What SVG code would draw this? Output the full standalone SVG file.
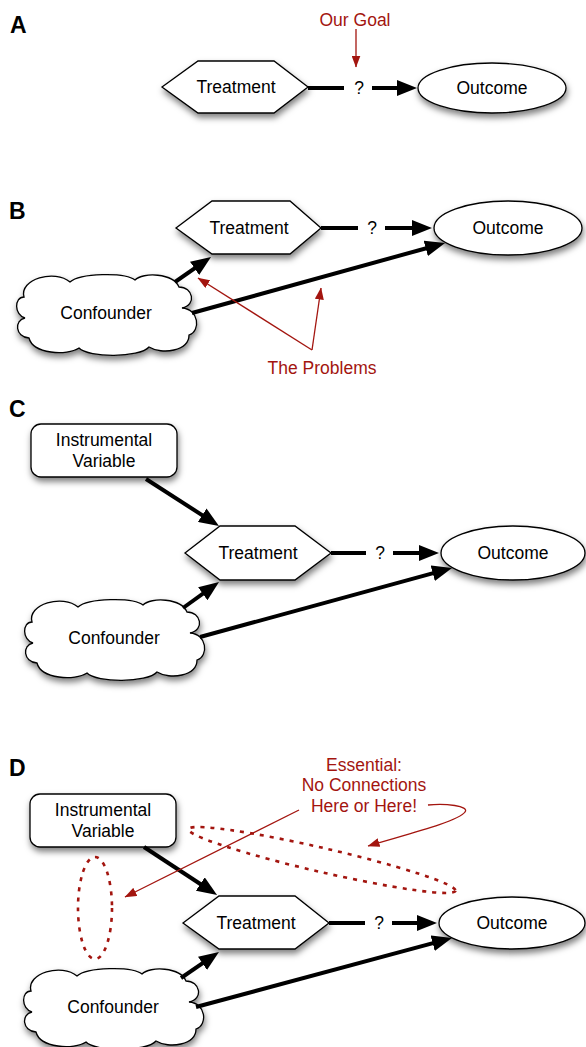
<svg xmlns="http://www.w3.org/2000/svg" width="586" height="1047" viewBox="0 0 586 1047">
<style>
.node{fill:#fff;stroke:#000;stroke-width:1.3;filter:url(#sh)}
.t{font-family:"Liberation Sans",Arial,sans-serif;font-size:17.5px;fill:#000;text-anchor:middle}
.r{font-family:"Liberation Sans",Arial,sans-serif;font-size:17.5px;fill:#a3150f;text-anchor:middle}
.lab{font-family:"Liberation Sans",Arial,sans-serif;font-size:23px;font-weight:bold;fill:#000}
.e{stroke:#000;stroke-width:4;fill:none}
.ea{stroke:#000;stroke-width:4;fill:none;marker-end:url(#ah)}
.ra{stroke:#a3150f;stroke-width:1.3;fill:none;marker-end:url(#rh)}
.dash{stroke:#a3150f;stroke-width:2.6;fill:none;stroke-dasharray:4 6}
</style>
<defs>
<filter id="sh" x="-20%" y="-20%" width="150%" height="160%">
<feDropShadow dx="1" dy="4" stdDeviation="3" flood-color="#000" flood-opacity="0.5"/>
</filter>
<marker id="ah" markerUnits="userSpaceOnUse" viewBox="0 0 20 16" markerWidth="20" markerHeight="16" refX="10" refY="8" orient="auto">
<path d="M0,0 L20,8 L0,16 Z" fill="#000"/>
</marker>
<marker id="rh" markerUnits="userSpaceOnUse" viewBox="0 0 12 9" markerWidth="12" markerHeight="9" refX="11.5" refY="4.5" orient="auto">
<path d="M0,0 L12,4.5 L0,9 Z" fill="#a3150f"/>
</marker>
<path id="cloud" d="M7,22 C2,4 38,-6 53,7 C63,-2 108,-3 118,5 C126,-3 156,-2 162,12 C176,12 180,30 165,33 C182,34 184,56 172,60 C172,76 145,80 132,72 C122,83 72,83 62,73 C50,81 16,79 12,63 C-2,62 -3,45 8,43 C-3,40 -3,22 7,22 Z"/>
</defs>

<g id="panel-labels">
<text class="lab" x="10" y="33">A</text>
<text class="lab" x="9" y="219">B</text>
<text class="lab" x="9" y="417">C</text>
<text class="lab" x="9" y="776">D</text>
</g>

<!-- Panel A -->
<g id="A-treatment">
<polygon class="node" points="162,87 198,61 274,61 308,87 274,113 198,113"/>
<text class="t" x="236" y="93">Treatment</text>
</g>
<g id="A-outcome">
<ellipse class="node" cx="492" cy="88" rx="74" ry="25"/>
<text class="t" x="492" y="94">Outcome</text>
</g>
<g id="A-goal">
<text class="r" x="355" y="26">Our Goal</text>
</g>

<!-- Panel B -->
<g id="B-treatment">
<polygon class="node" points="176,228 212,201 290,201 321,228 290,254 212,254"/>
<text class="t" x="249" y="234">Treatment</text>
</g>
<g id="B-outcome">
<ellipse class="node" cx="508" cy="228" rx="74" ry="27"/>
<text class="t" x="508" y="234">Outcome</text>
</g>
<g id="B-confounder">
<use href="#cloud" class="node" transform="translate(17,275)"/>
<text class="t" x="106" y="319">Confounder</text>
</g>
<g id="B-problems">
<text class="r" x="322" y="374">The Problems</text>
</g>

<!-- Panel C -->
<g id="C-instrument">
<rect class="node" x="31" y="424" width="146" height="53" rx="10"/>
<text class="t" x="104" y="446">Instrumental</text>
<text class="t" x="104" y="467">Variable</text>
</g>
<g id="C-treatment">
<polygon class="node" points="185,553 220,526 295,526 331,553 295,580 220,580"/>
<text class="t" x="258" y="559">Treatment</text>
</g>
<g id="C-outcome">
<ellipse class="node" cx="513" cy="553" rx="72" ry="27"/>
<text class="t" x="513" y="559">Outcome</text>
</g>
<g id="C-confounder">
<use href="#cloud" class="node" transform="translate(25,600)"/>
<text class="t" x="114" y="644">Confounder</text>
</g>

<!-- Panel D -->
<g id="D-instrument">
<rect class="node" x="30" y="794" width="146" height="53" rx="10"/>
<text class="t" x="103" y="816">Instrumental</text>
<text class="t" x="103" y="837">Variable</text>
</g>
<g id="D-treatment">
<polygon class="node" points="183,923 219,896 295,896 329,923 295,949 219,949"/>
<text class="t" x="256" y="929">Treatment</text>
</g>
<g id="D-outcome">
<ellipse class="node" cx="512" cy="923" rx="73" ry="26"/>
<text class="t" x="512" y="929">Outcome</text>
</g>
<g id="D-confounder">
<use href="#cloud" class="node" transform="translate(24,969)"/>
<text class="t" x="113" y="1013">Confounder</text>
</g>
<g id="D-note">
<text class="r" x="364" y="771">Essential:</text>
<text class="r" x="364" y="791">No Connections</text>
<text class="r" x="364" y="812">Here or Here!</text>
</g>
<g id="D-exclusions">
<ellipse class="dash" cx="95" cy="908" rx="17" ry="51"/>
<ellipse class="dash" cx="322" cy="860" rx="137" ry="12" transform="rotate(13 322 860)"/>
</g>

<g id="connectors">
<!-- A -->
<line class="e" x1="308" y1="88" x2="344" y2="88"/>
<text class="t" x="359" y="94">?</text>
<line class="ea" x1="372" y1="88" x2="407" y2="88"/>
<line class="ra" x1="356" y1="29" x2="356" y2="67"/>
<!-- B -->
<line class="e" x1="321" y1="228" x2="358" y2="228"/>
<text class="t" x="372" y="234">?</text>
<line class="ea" x1="385" y1="228" x2="422" y2="228"/>
<line class="ea" x1="175" y1="282" x2="202.8" y2="262.7"/>
<line class="ea" x1="192" y1="313" x2="435.4" y2="245.7"/>
<line class="ra" x1="312" y1="350" x2="198" y2="278"/>
<line class="ra" x1="312" y1="350" x2="321" y2="288"/>
<!-- C -->
<line class="ea" x1="146" y1="479" x2="210.6" y2="520.6"/>
<line class="e" x1="331" y1="553" x2="366" y2="553"/>
<text class="t" x="380" y="559">?</text>
<line class="ea" x1="393" y1="553" x2="429" y2="553"/>
<line class="ea" x1="183" y1="608" x2="210.9" y2="587.9"/>
<line class="ea" x1="200" y1="637" x2="442.4" y2="570.6"/>
<!-- D -->
<line class="ea" x1="144" y1="847" x2="208.7" y2="889.5"/>
<line class="e" x1="329" y1="923" x2="365" y2="923"/>
<text class="t" x="379" y="929">?</text>
<line class="ea" x1="392" y1="923" x2="427" y2="923"/>
<line class="ea" x1="181" y1="978" x2="210.7" y2="957.7"/>
<line class="ea" x1="196" y1="1007" x2="442.3" y2="940.6"/>
<line class="ra" x1="299" y1="810" x2="125" y2="897"/>
<path class="ra" d="M428,805 C445,803 470,806 465,812 C458,822 400,836 368,846"/>
</g>
</svg>
